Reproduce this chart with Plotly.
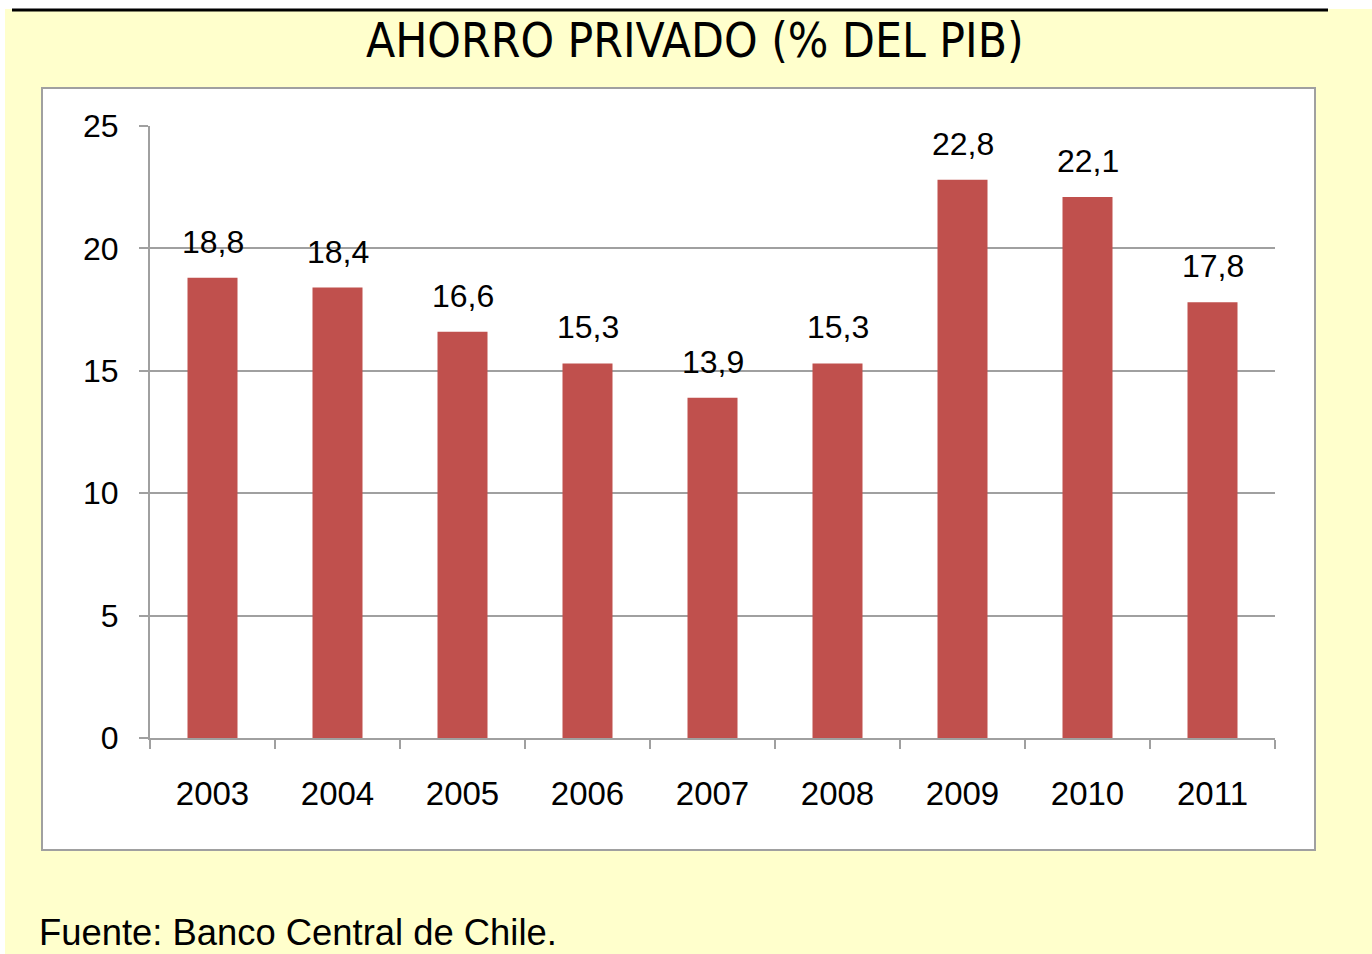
import plotly.graph_objects as go

years = ["2003", "2004", "2005", "2006", "2007", "2008", "2009", "2010", "2011"]
ahorro = [18.8, 18.4, 16.6, 15.3, 13.9, 15.3, 22.8, 22.1, 17.8]
y_ticks = [0, 5, 10, 15, 20, 25]
title_text = "AHORRO PRIVADO (% DEL PIB)"
source_text = "Fuente: Banco Central de Chile."

W, H = 1372, 954
L, R, T, B = 150, 97, 126, 216
pw, ph = W - L - R, H - T - B

def px(x):
    return (x - L) / pw

def py(y):
    return (H - B - y) / ph

FONT = "Liberation Sans, Arial, sans-serif"
GRAY = "#A0A0A0"

fig = go.Figure()
fig.add_trace(go.Bar(
    x=years, y=ahorro, marker_color="#C0504D", marker_line_width=0,
    width=0.4, hoverinfo="x+y",
))

annotations = []
for i, v in enumerate(ahorro):
    annotations.append(dict(
        x=i, y=v, xref="x", yref="y", text=f"{v:.1f}".replace(".", ","),
        showarrow=False, yanchor="bottom", yshift=16,
        font=dict(family=FONT, size=32, color="black"),
    ))
annotations.append(dict(
    x=px(37), y=py(932), xref="paper", yref="paper", text=source_text,
    showarrow=False, xanchor="left", yanchor="middle",
    font=dict(family=FONT, size=36.4, color="black"),
))
annotations.append(dict(
    x=px(695), y=py(40), xref="paper", yref="paper", text=title_text,
    showarrow=False, xanchor="center", yanchor="middle",
    font=dict(family="Liberation Sans Narrow, Arial Narrow, DejaVu Sans Condensed, Liberation Sans, sans-serif",
              size=47.5, color="black"),
))

shapes = [
    dict(type="rect", xref="paper", yref="paper", x0=px(0), x1=px(W), y0=py(0), y1=py(9),
         fillcolor="white", line_width=0, layer="below"),
    dict(type="rect", xref="paper", yref="paper", x0=px(0), x1=px(5), y0=py(0), y1=py(H),
         fillcolor="white", line_width=0, layer="below"),
    dict(type="line", xref="paper", yref="paper", x0=px(12), x1=px(1328), y0=py(10), y1=py(10),
         line=dict(color="black", width=3)),
    dict(type="rect", xref="paper", yref="paper", x0=px(42), x1=px(1315), y0=py(850), y1=py(88),
         fillcolor="white", line=dict(color=GRAY, width=2), layer="below"),
]

fig.update_layout(
    width=W, height=H,
    margin=dict(l=L, r=R, t=T, b=B, pad=0),
    paper_bgcolor="#FFFFCC", plot_bgcolor="white",
    showlegend=False, bargap=0.6,
    annotations=annotations, shapes=shapes,
    xaxis=dict(
        type="category", range=[-0.5, len(years) - 0.5], showgrid=False,
        showline=True, linecolor=GRAY, linewidth=2, tickangle=0,
        ticks="outside", tickson="boundaries", ticklen=9, tickcolor=GRAY, tickwidth=2,
        tickfont=dict(family=FONT, size=33, color="black"), ticklabelstandoff=25,
    ),
    yaxis=dict(
        range=[0, 25], tickvals=y_ticks, showgrid=True, gridcolor=GRAY, gridwidth=2,
        showline=True, linecolor=GRAY, linewidth=2, zeroline=False,
        ticks="outside", ticklen=9, tickcolor=GRAY, tickwidth=2,
        tickfont=dict(family=FONT, size=32, color="black"), ticklabelstandoff=14,
    ),
)

fig.write_html("out.html", config={"displayModeBar": False},
               post_script="document.body.style.margin='0';document.body.style.overflow='hidden';")
